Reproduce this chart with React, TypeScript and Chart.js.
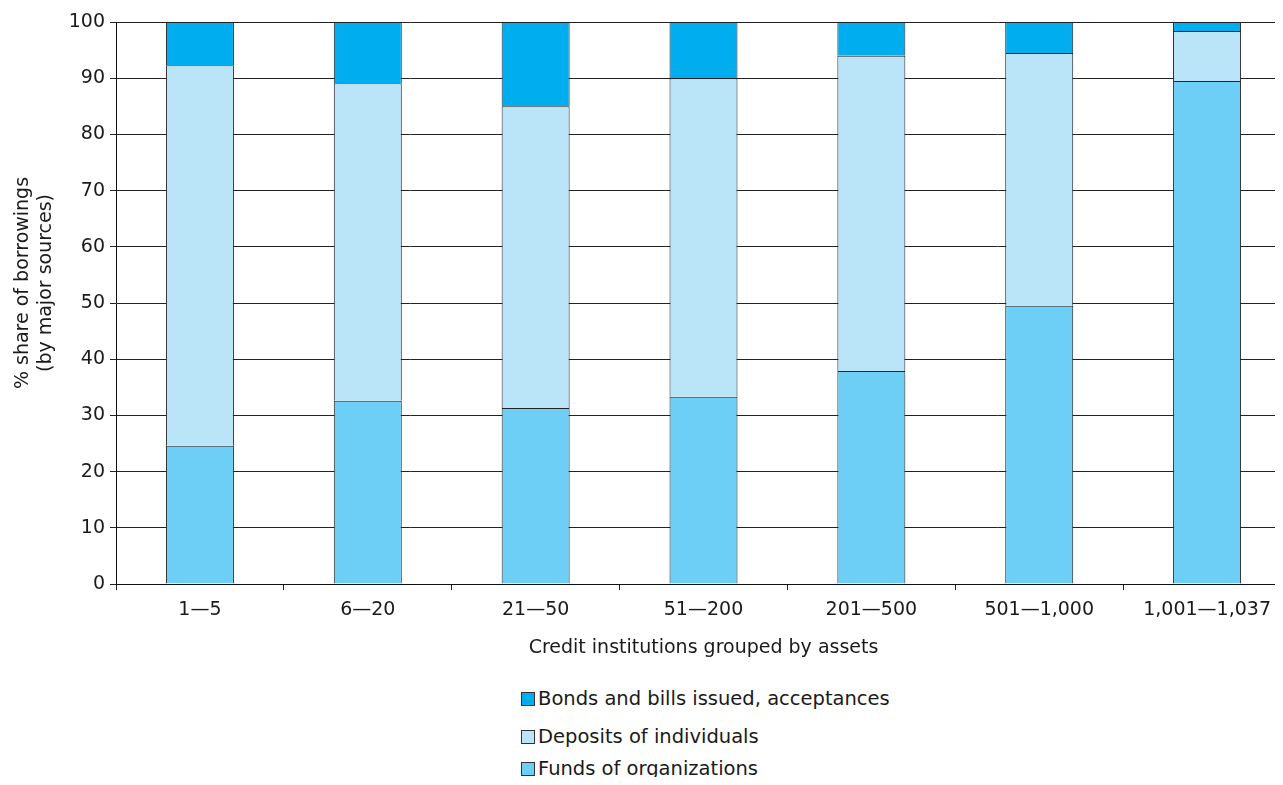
import React, { useEffect, useRef } from "react";
import { Chart, registerables } from "chart.js";

Chart.register(...registerables);

const categories = ["1—5", "6—20", "21—50", "51—200", "201—500", "501—1,000", "1,001—1,037"];
const fundsOfOrganizations = [24.6, 32.6, 31.3, 33.3, 37.9, 49.5, 89.5];
const depositsOfIndividuals = [67.7, 56.5, 53.7, 56.7, 56.1, 45.0, 8.9];
const bondsAndBills = [7.7, 10.9, 15.0, 10.0, 6.0, 5.5, 1.6];
const seriesLabels = ["Funds of organizations", "Deposits of individuals", "Bonds and bills issued, acceptances"];
const seriesColors = ["#6DCFF6", "#BAE4F8", "#00AEEF"];
const yTitleLines = ["% share of borrowings", "(by major sources)"];
const xTitle = "Credit institutions grouped by assets";

const FONT = '"DejaVu Sans", "Liberation Sans", Arial, sans-serif';
const FONT_SIZE = 19;
const CANVAS_W = 1292;
const CANVAS_H = 670;

const yTitlePlugin = {
  id: "yTitleLines",
  afterDraw(chart: any) {
    const { ctx, chartArea } = chart;
    ctx.save();
    ctx.fillStyle = "#1a1a1a";
    ctx.font = `${FONT_SIZE}px ${FONT}`;
    ctx.textAlign = "center";
    ctx.textBaseline = "middle";
    const cy = (chartArea.top + chartArea.bottom) / 2 - 20;
    const xs = [23, 46];
    yTitleLines.forEach((line, i) => {
      ctx.save();
      ctx.translate(xs[i], cy);
      ctx.rotate(-Math.PI / 2);
      ctx.fillText(line, 0, 0);
      ctx.restore();
    });
    ctx.restore();
  },
};

export default function App() {
  const ref = useRef<HTMLCanvasElement | null>(null);

  useEffect(() => {
    document.documentElement.style.overflow = "hidden";
    const canvas = ref.current;
    if (!canvas) return;
    const seriesData = [fundsOfOrganizations, depositsOfIndividuals, bondsAndBills];
    const chart = new Chart(canvas, {
      type: "bar",
      data: {
        labels: categories,
        datasets: seriesData.map((d, i) => ({
          label: seriesLabels[i],
          data: d,
          backgroundColor: seriesColors[i],
          borderColor: "#222",
          borderWidth: 1,
          barPercentage: 0.405,
          categoryPercentage: 1,
        })),
      },
      options: {
        responsive: false,
        animation: false,
        devicePixelRatio: 1,
        layout: { padding: { top: 22, right: 1, left: 0, bottom: 0 } },
        plugins: {
          legend: { display: false },
          tooltip: { enabled: false },
        },
        scales: {
          x: {
            stacked: true,
            grid: { display: true, drawOnChartArea: false, drawTicks: true, tickLength: 6, color: "#222", offset: true },
            border: { display: true, color: "#111", width: 1 },
            ticks: { color: "#1a1a1a", font: { family: FONT, size: FONT_SIZE }, padding: 9, maxRotation: 0, autoSkip: false },
            title: {
              display: true,
              text: xTitle,
              color: "#1a1a1a",
              font: { family: FONT, size: FONT_SIZE },
              padding: { top: 4, bottom: 11 },
            },
            afterFit: (s: any) => {
              s.height = CANVAS_H - 584;
            },
          },
          y: {
            stacked: true,
            min: 0,
            max: 100,
            ticks: { stepSize: 10, color: "#1a1a1a", font: { family: FONT, size: FONT_SIZE }, padding: 5 },
            grid: { color: "#222", lineWidth: 1, tickLength: 6, drawTicks: true },
            border: { display: true, color: "#111", width: 1 },
            title: { display: false },
            afterFit: (s: any) => {
              s.width = 116;
            },
          },
        },
      },
      plugins: [yTitlePlugin],
    });
    return () => chart.destroy();
  }, []);

  const legendItems = [2, 1, 0];
  const legendTops = [689, 727, 759];

  return (
    <div style={{ margin: "-8px", position: "relative", width: 1283, height: 785, overflow: "hidden", background: "#fff" }}>
      <canvas
        ref={ref}
        width={CANVAS_W}
        height={CANVAS_H}
        style={{ position: "absolute", left: 0, top: 0, width: CANVAS_W, height: CANVAS_H }}
      />
      {legendItems.map((idx, k) => (
        <div
          key={idx}
          style={{
            position: "absolute",
            left: 521,
            top: legendTops[k],
            height: 20,
            display: "flex",
            alignItems: "center",
            fontFamily: FONT,
            fontSize: 19.5,
            lineHeight: "20px",
            color: "#1a1a1a",
            whiteSpace: "nowrap",
          }}
        >
          <span
            style={{
              display: "inline-block",
              width: 12,
              height: 12,
              border: "1px solid #333",
              background: seriesColors[idx],
              marginRight: 3,
            }}
          />
          <span>{seriesLabels[idx]}</span>
        </div>
      ))}
    </div>
  );
}
